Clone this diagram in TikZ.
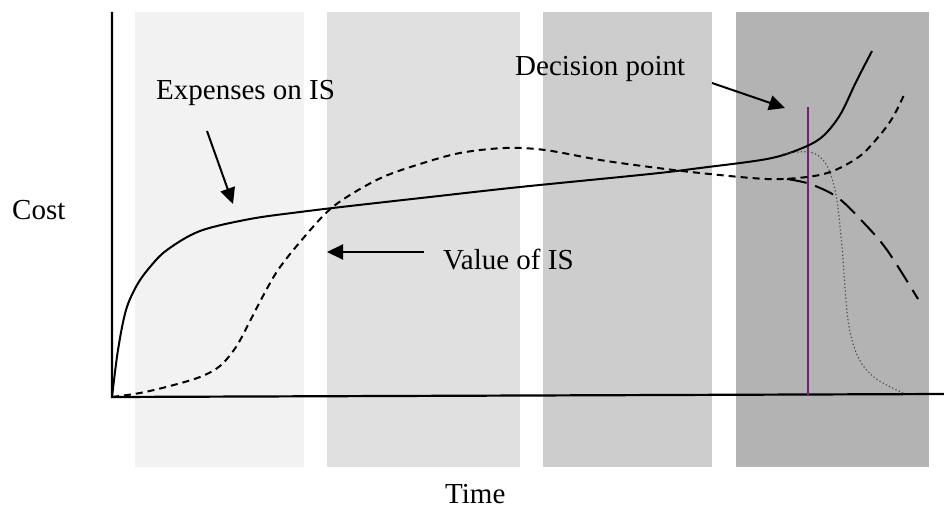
\documentclass[tikz,border=0pt]{standalone}
\usepackage{fontspec}
\setmainfont{Liberation Serif}
\usetikzlibrary{arrows.meta}
\definecolor{bandA}{RGB}{242,242,242}
\definecolor{bandB}{RGB}{224,224,224}
\definecolor{bandC}{RGB}{205,205,205}
\definecolor{bandD}{RGB}{179,179,179}
\definecolor{decis}{RGB}{120,28,120}
\tikzset{
  lbl/.style={anchor=base west, inner sep=0pt, font=\fontsize{29}{31}\selectfont},
  ptr/.style={line width=2pt, -{Triangle[length=16pt,width=15pt]}},
  axis/.style={line width=2.2pt}
}
\begin{document}
\begin{tikzpicture}[x=1pt,y=-1pt]
\useasboundingbox (0,0) rectangle (944,510);
% bands
\fill[bandA] (135,12) rectangle (304,467);
\fill[bandB] (327,12) rectangle (520,467);
\fill[bandC] (543,12) rectangle (712,467);
\fill[bandD] (736,12) rectangle (929,467);
% axes
\coordinate (O) at (112,397);
\coordinate (ytop) at (112,12);
\coordinate (xend) at (944,394);
\draw[axis] (ytop) -- (O) -- (xend);
% decision line
\coordinate (dtop) at (808,107);
\coordinate (dbot) at (808,396);
\draw[decis, line width=2pt] (dtop) -- (dbot);
% expenses (solid)
\draw[line width=2pt] plot[smooth, tension=0.55] coordinates {
 (112,397) (118,350) (126,310) (137,285) (150,267) (167,250) (200,231) (250,219)
 (300,212) (350,206) (430,197) (520,187) (650,174) (700,168) (767,159) (800,149)
 (822,137) (840,115) (856,82) (872,51)};
% value (short dashes)
\draw[line width=2pt, dash pattern=on 7pt off 5pt] plot[smooth, tension=0.55] coordinates {
 (112,397) (140,393) (170,386) (200,377) (220,366) (236,347) (249,323) (263,296)
 (278,270) (300,242) (327,212) (350,195) (383,177) (420,164) (460,153) (505,148)
 (545,150) (600,160) (650,167) (700,173) (767,179) (807,177) (833,171) (860,156)
 (880,135) (893,117) (904,95)};
% long dashes
\draw[line width=2pt, dash pattern=on 20pt off 9pt] plot[smooth, tension=0.55] coordinates {
 (787,179) (810,184) (837,197) (862,221) (887,250) (918,299)};
% dotted
\draw[black!70, line width=1.2pt, dash pattern=on 1.2pt off 2.4pt] plot[smooth, tension=0.55] coordinates {
 (783,154) (810,152) (826,164) (836,195) (842,247) (848,320) (858,357) (875,378) (903,393)};
% labels
\node[lbl] (exp) at (156,100) {Expenses on IS};
\node[lbl] (val) at (443,270) {Value of IS};
\node[lbl] (dec) at (515,76) {Decision point};
\node[lbl] (cost) at (12,220) {Cost};
\node[lbl] (time) at (445,503) {Time};
% pointers
\coordinate (e1) at (207,131); \coordinate (e2) at (233,204);
\coordinate (v1) at (424,252); \coordinate (v2) at (327,252);
\coordinate (d1) at (712,83); \coordinate (d2) at (785,108);
\draw[ptr] (e1) -- (e2);
\draw[ptr] (v1) -- (v2);
\draw[ptr] (d1) -- (d2);
\end{tikzpicture}
\end{document}
